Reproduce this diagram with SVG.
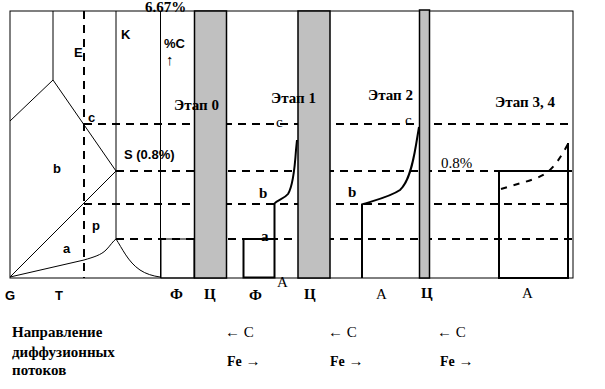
<svg xmlns="http://www.w3.org/2000/svg" width="605" height="389" viewBox="0 0 605 389">
<style>
.thin{fill:none;stroke:#000;stroke-width:1}
.thick{fill:none;stroke:#000;stroke-width:2}
.dash{fill:none;stroke:#000;stroke-width:2;stroke-dasharray:8,6}
.band{fill:#c0c0c0;stroke:#000;stroke-width:1.5}
.sl{font-family:'Liberation Sans',Arial,sans-serif;font-weight:bold;font-size:13px;fill:#000}
.se{font-family:'Liberation Serif','Times New Roman',serif;font-weight:bold;font-size:15px;fill:#000}
.sr{font-family:'Liberation Serif','Times New Roman',serif;font-size:15px;fill:#000}
</style>
<rect width="605" height="389" fill="#fff"/>
<g id="connectors">
<rect class="thin" x="10" y="11" width="563" height="267"/>
<line class="dash" x1="84" y1="11" x2="84" y2="278"/>
<line class="dash" x1="84" y1="124" x2="573" y2="124"/>
<line class="dash" x1="116" y1="171" x2="573" y2="171"/>
<line class="dash" x1="84" y1="204" x2="573" y2="204"/>
<line class="dash" x1="116" y1="239" x2="573" y2="239"/>
</g>
<g id="phase-diagram">
<line class="thin" x1="53" y1="11" x2="53" y2="80"/>
<line class="thin" x1="53" y1="80" x2="10" y2="121"/>
<line class="thin" x1="53" y1="80" x2="116" y2="171"/>
<line class="thin" x1="10" y1="277" x2="116" y2="171"/>
<line class="thin" x1="116" y1="11" x2="116" y2="239"/>
<line class="thin" x1="160.5" y1="11" x2="160.5" y2="278"/>
<path class="thin" d="M10,277 L84,260 C94,257 101,255 106,250 C110,246 113,241 116,239 C122,248 128,262 140,270 C146,274 153,276 160,277"/>
</g>
<g id="stage0">
<rect class="thin" x="161" y="239" width="33" height="39"/>
<rect class="band" x="194.5" y="11" width="32" height="267"/>
</g>
<g id="stage1">
<rect class="thick" x="243.5" y="239" width="31" height="38.5"/>
<path class="thick" d="M274.5,239 L274.5,203.5 C277,200 284,199 288,194 C293,186 295,165 296,150 L297,140"/>
<rect class="band" x="298" y="11" width="32" height="267"/>
</g>
<g id="stage2">
<path class="thick" d="M362,278 L362,204.5 C372,201 390,197 400,190 C409,182 413,163 416,145 L419,127"/>
<rect class="band" x="419.5" y="10" width="10" height="268"/>
</g>
<g id="stage34">
<rect class="thick" x="499" y="171" width="69" height="107"/>
<path class="thick" stroke-dasharray="6,7" d="M501,189 C520,183 535,180 545,174 C555,167 562,155 568,144"/>
<line class="thick" x1="568" y1="143" x2="568" y2="278"/>
</g>
<g id="labels">
<text class="se" x="145" y="12" font-size="12.5">6.67%</text>
<text class="sl" x="74" y="57" font-size="12">E</text>
<text class="sl" x="121" y="39" font-size="12">K</text>
<text class="sl" x="164" y="48">%C</text>
<text class="sr" x="166" y="65" font-size="13">↑</text>
<text class="sl" x="88" y="122" font-weight="normal" font-size="11">c</text>
<text class="sl" x="124" y="159">S (0.8%)</text>
<text class="sl" x="53" y="173">b</text>
<text class="sl" x="92" y="230">p</text>
<text class="sl" x="63" y="253">a</text>
<text class="sl" x="5" y="300">G</text>
<text class="sl" x="55" y="300">T</text>
<text class="se" x="170" y="299">Ф</text>
<text class="se" x="204" y="299" font-size="16">Ц</text>
<text class="se" x="174" y="110">Этап 0</text>
<text class="se" x="271" y="103">Этап 1</text>
<text class="sr" x="276" y="127" font-size="11">c</text>
<text class="se" x="259" y="198">b</text>
<text class="se" x="261" y="241">a</text>
<text class="se" x="249" y="300">Ф</text>
<text class="sr" x="277" y="287">A</text>
<text class="se" x="304" y="299" font-size="16">Ц</text>
<text class="se" x="368" y="100">Этап 2</text>
<text class="sr" x="405" y="125" font-size="11">c</text>
<text class="se" x="348" y="197">b</text>
<text class="sr" x="376" y="299">A</text>
<text class="se" x="421" y="298" font-size="16">Ц</text>
<text class="se" x="495" y="107">Этап 3, 4</text>
<text class="sr" x="441" y="168" font-size="16">0.8%</text>
<text class="sr" x="522" y="298">A</text>
<text class="se" x="12" y="337" font-size="14">Направление</text>
<text class="se" x="12" y="357" font-size="14">диффузионных</text>
<text class="se" x="12" y="375" font-size="14">потоков</text>
<text class="sr" x="225" y="337">← C</text>
<text class="sr" x="227" y="366"><tspan font-weight="bold" font-size="14">Fe</tspan> →</text>
<text class="sr" x="328" y="337">← C</text>
<text class="sr" x="330" y="366"><tspan font-weight="bold" font-size="14">Fe</tspan> →</text>
<text class="sr" x="437" y="337">← C</text>
<text class="sr" x="440" y="366"><tspan font-weight="bold" font-size="14">Fe</tspan> →</text>
</g>
</svg>
